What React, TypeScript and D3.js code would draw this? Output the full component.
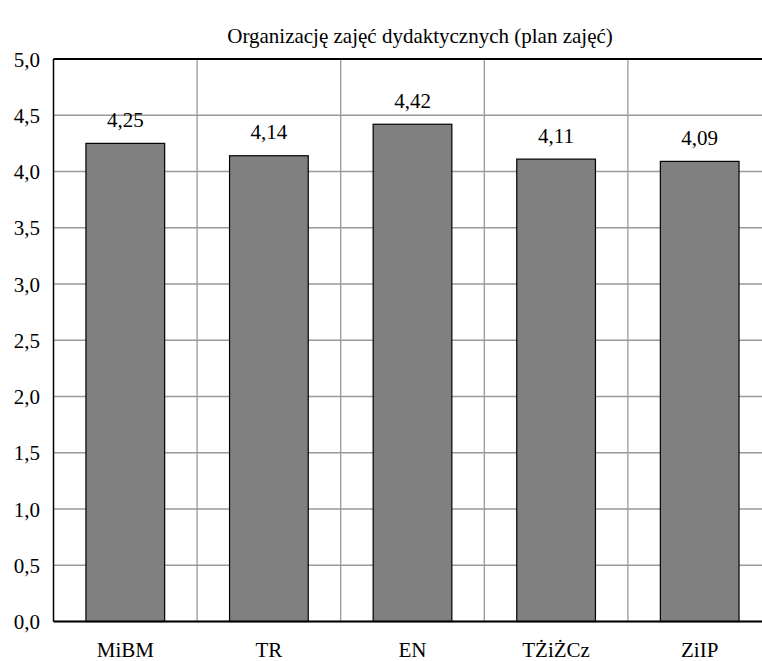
import React from "react";
import * as d3 from "d3";

const categories = ["MiBM", "TR", "EN", "TŻiŻCz", "ZiIP"];
const values = [4.25, 4.14, 4.42, 4.11, 4.09];
const yTicks = [0, 0.5, 1, 1.5, 2, 2.5, 3, 3.5, 4, 4.5, 5];
const title = "Organizację zajęć dydaktycznych (plan zajęć)";

const W = 762;
const H = 661;
const left = 53.5;
const right = 771.5;
const top = 59;
const bottom = 621.5;
const font = "'Liberation Serif', 'Times New Roman', Times, serif";
const fs = "21px";
const fmt = (v: number, d: number) => v.toFixed(d).replace(".", ",");

export default function App() {
  const x = d3.scaleBand<string>().domain(categories).range([left, right]).paddingInner(0).paddingOuter(0);
  const y = d3.scaleLinear().domain([0, 5]).range([bottom, top]);
  const bw = x.bandwidth() * 0.548;
  const ts = { fontFamily: font, fontSize: fs };
  return (
    <svg width={W} height={H} style={{ position: "absolute", left: 0, top: 0, background: "#fff" }}>
      <text x={420} y={43} textAnchor="middle" style={ts} fill="#000">
        {title}
      </text>
      {yTicks.map((t) => (
        <line key={"h" + t} x1={left} x2={right} y1={y(t)} y2={y(t)} stroke="#9a9a9a" strokeWidth={1.3} />
      ))}
      {categories.slice(1).map((c) => (
        <line key={"v" + c} x1={x(c)!} x2={x(c)!} y1={top} y2={bottom} stroke="#9a9a9a" strokeWidth={1.3} />
      ))}
      {categories.map((c, i) => {
        const cx = x(c)! + x.bandwidth() / 2;
        return (
          <g key={c}>
            <rect x={cx - bw / 2} y={y(values[i])} width={bw} height={bottom - y(values[i])} fill="#808080" stroke="#000" strokeWidth={1.2} />
            <text x={cx} y={y(values[i]) - 16.5} textAnchor="middle" style={ts} fill="#000">
              {fmt(values[i], 2)}
            </text>
            <text x={cx} y={657} textAnchor="middle" style={ts} fill="#000">
              {c}
            </text>
          </g>
        );
      })}
      <line x1={left} x2={right} y1={top} y2={top} stroke="#000" strokeWidth={2} />
      <line x1={left} x2={right} y1={bottom} y2={bottom} stroke="#000" strokeWidth={2} />
      <line x1={left} x2={left} y1={top} y2={bottom} stroke="#000" strokeWidth={1.5} />
      {yTicks.map((t) => (
        <text key={"t" + t} x={40} y={y(t) + 7.5} textAnchor="end" style={ts} fill="#000">
          {fmt(t, 1)}
        </text>
      ))}
    </svg>
  );
}
